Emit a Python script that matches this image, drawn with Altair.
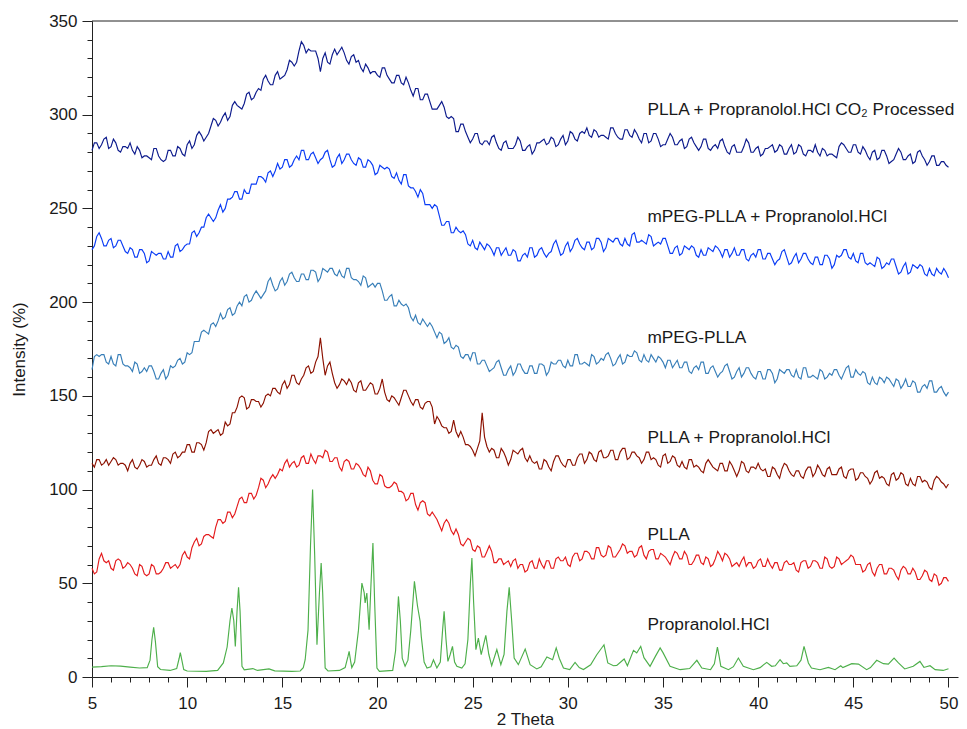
import altair as alt
import numpy as np
import pandas as pd

# ---------------- data ----------------
# amorphous patterns: main samples every 0.25 degree from 5 to 50 (2 Theta),
# plus the readings between them (at +0.125)
X_START = 5.0
X_END = 50.0

co2_processed = [
    281, 285, 284, 288, 283, 285, 280, 283, 285, 279, 281, 278, 277, 282, 278, 275,
    281, 278, 283, 279, 284, 282, 289, 289, 288, 294, 297, 296, 301, 299, 307, 304,
    306, 312, 309, 314, 319, 318, 316, 323, 320, 324, 328, 328, 339, 333, 334, 334,
    323, 333, 327, 335, 334, 333, 327, 332, 329, 323, 325, 323, 321, 325, 321, 317,
    321, 317, 320, 313, 314, 308, 311, 307, 303, 305, 304, 298, 298, 291, 295, 288,
    287, 290, 284, 286, 288, 285, 281, 286, 282, 284, 286, 281, 284, 281, 285, 287,
    285, 287, 284, 289, 286, 290, 286, 291, 293, 288, 291, 289, 288, 293, 290, 287,
    292, 289, 292, 287, 290, 285, 290, 287, 284, 287, 288, 284, 287, 283, 288, 283,
    283, 287, 281, 284, 286, 283, 279, 284, 280, 283, 285, 280, 283, 279, 282, 284,
    281, 283, 279, 284, 280, 283, 278, 281, 284, 278, 281, 279, 278, 283, 284, 280,
    284, 280, 283, 278, 280, 276, 281, 278, 275, 279, 280, 276, 279, 275, 281, 276,
    275, 278, 273, 275, 272,
]
co2_processed_mid = [
    285, 282, 287, 282, 287, 281, 283, 282, 281, 283, 277, 278, 276, 282, 276, 276,
    281, 278, 282, 278, 286, 284, 291, 286, 290, 298, 294, 299, 297, 305, 305, 303,
    311, 308, 312, 313, 321, 316, 321, 319, 321, 329, 326, 334, 337, 335, 334, 330,
    330, 328, 332, 332, 336, 329, 331, 328, 325, 327, 322, 323, 320, 325, 319, 317,
    321, 316, 317, 310, 314, 308, 311, 303, 303, 307, 299, 299, 291, 295, 291, 285,
    290, 285, 286, 284, 289, 282, 285, 282, 282, 288, 281, 283, 279, 285, 286, 284,
    288, 283, 287, 284, 291, 287, 290, 290, 289, 292, 288, 289, 287, 293, 288, 287,
    292, 288, 290, 285, 290, 286, 290, 283, 284, 290, 284, 286, 282, 287, 285, 281,
    287, 282, 283, 282, 287, 280, 283, 280, 280, 287, 280, 282, 278, 282, 283, 280,
    284, 279, 282, 279, 284, 279, 281, 280, 280, 282, 278, 279, 277, 285, 282, 280,
    284, 279, 281, 276, 281, 277, 281, 274, 276, 282, 276, 278, 274, 280, 278, 273,
    278, 273, 275, 273,
]

mpeg_plla_drug = [
    228, 235, 234, 230, 234, 230, 233, 227, 229, 224, 228, 226, 222, 226, 226, 223,
    227, 224, 231, 228, 231, 237, 235, 240, 245, 245, 245, 252, 250, 255, 259, 255,
    260, 258, 263, 267, 266, 269, 267, 274, 272, 276, 273, 278, 281, 276, 279, 277,
    276, 280, 276, 273, 279, 276, 279, 274, 277, 272, 276, 273, 269, 272, 272, 267,
    269, 263, 268, 261, 259, 260, 252, 252, 252, 246, 241, 243, 237, 238, 238, 231,
    233, 228, 230, 231, 228, 229, 225, 229, 225, 227, 222, 226, 229, 224, 228, 226,
    226, 231, 229, 226, 232, 229, 234, 229, 232, 228, 234, 232, 229, 233, 234, 231,
    234, 230, 237, 232, 232, 236, 230, 232, 234, 230, 226, 230, 226, 229, 230, 225,
    228, 225, 228, 230, 227, 228, 224, 229, 225, 228, 222, 226, 228, 223, 226, 223,
    222, 227, 224, 221, 226, 223, 226, 221, 224, 220, 225, 223, 220, 224, 228, 224,
    226, 221, 226, 220, 220, 224, 218, 221, 223, 219, 216, 221, 216, 219, 220, 215,
    218, 214, 216, 218, 213,
]
mpeg_plla_drug_mid = [
    230, 237, 230, 233, 229, 233, 230, 226, 228, 224, 228, 221, 227, 225, 226, 223,
    224, 230, 227, 230, 231, 238, 237, 240, 247, 243, 249, 248, 255, 256, 259, 255,
    258, 263, 263, 267, 264, 270, 270, 271, 276, 272, 276, 276, 281, 276, 280, 274,
    277, 281, 272, 277, 274, 279, 276, 273, 276, 272, 275, 268, 273, 271, 271, 266,
    265, 268, 262, 261, 256, 258, 252, 250, 251, 241, 243, 237, 240, 237, 236, 230,
    229, 232, 228, 230, 225, 229, 227, 225, 228, 222, 225, 224, 229, 225, 229, 224,
    227, 233, 225, 230, 227, 233, 231, 228, 232, 229, 234, 227, 234, 232, 234, 230,
    231, 236, 232, 233, 231, 235, 231, 231, 234, 226, 229, 225, 230, 228, 229, 224,
    225, 229, 227, 229, 224, 228, 226, 225, 228, 223, 225, 224, 228, 223, 226, 220,
    223, 228, 220, 224, 221, 226, 223, 220, 224, 220, 225, 218, 225, 225, 228, 223,
    222, 226, 221, 221, 219, 223, 219, 220, 223, 215, 219, 215, 220, 218, 219, 214,
    215, 218, 215, 216,
]

mpeg_plla = [
    164, 172, 172, 168, 171, 166, 172, 166, 165, 168, 162, 165, 166, 163, 159, 164,
    161, 165, 169, 167, 173, 173, 179, 184, 184, 188, 187, 194, 192, 197, 194, 200,
    203, 200, 204, 204, 204, 211, 209, 207, 213, 211, 216, 211, 215, 212, 217, 216,
    213, 217, 218, 215, 217, 213, 218, 212, 211, 214, 208, 210, 210, 206, 201, 204,
    198, 199, 199, 192, 193, 188, 189, 189, 184, 184, 178, 181, 175, 176, 170, 172,
    173, 167, 169, 166, 164, 168, 165, 161, 166, 163, 167, 162, 166, 162, 167, 166,
    163, 167, 169, 166, 169, 166, 172, 167, 167, 172, 167, 170, 172, 170, 167, 172,
    168, 171, 174, 169, 172, 168, 170, 171, 168, 169, 165, 169, 165, 168, 162, 166,
    168, 162, 165, 163, 162, 166, 163, 160, 165, 162, 165, 160, 163, 159, 164, 162,
    159, 163, 164, 161, 164, 159, 165, 160, 160, 164, 159, 162, 164, 161, 162, 166,
    160, 162, 163, 157, 160, 156, 159, 160, 157, 159, 154, 159, 155, 157, 152, 156,
    158, 152, 154, 152, 152,
]
mpeg_plla_mid = [
    171, 171, 172, 167, 167, 172, 167, 166, 163, 167, 163, 163, 166, 159, 162, 159,
    166, 166, 170, 168, 172, 179, 179, 185, 183, 189, 190, 191, 196, 193, 198, 198,
    204, 201, 206, 202, 206, 213, 206, 211, 209, 215, 213, 211, 215, 212, 217, 211,
    218, 216, 218, 214, 214, 218, 213, 212, 209, 213, 209, 208, 210, 201, 203, 198,
    201, 198, 197, 190, 189, 191, 187, 187, 181, 183, 179, 176, 177, 171, 172, 169,
    173, 167, 169, 163, 165, 169, 161, 164, 161, 167, 164, 162, 166, 162, 167, 161,
    168, 167, 169, 165, 166, 172, 167, 168, 166, 171, 168, 169, 173, 166, 170, 167,
    172, 171, 173, 168, 169, 172, 168, 170, 165, 169, 167, 165, 168, 163, 165, 164,
    168, 162, 166, 160, 163, 167, 159, 163, 160, 165, 162, 159, 163, 159, 164, 157,
    164, 162, 164, 160, 160, 165, 160, 161, 159, 163, 160, 161, 164, 159, 165, 160,
    164, 161, 162, 156, 157, 160, 157, 159, 155, 158, 156, 155, 158, 152, 155, 154,
    158, 152, 155, 150,
]

plla_drug = [
    114, 116, 113, 116, 115, 116, 114, 113, 114, 112, 113, 115, 113, 116, 114, 117,
    116, 119, 117, 120, 124, 120, 125, 124, 125, 132, 131, 129, 136, 135, 141, 149,
    149, 144, 148, 147, 146, 151, 154, 152, 156, 154, 161, 157, 159, 165, 162, 168,
    181, 161, 168, 157, 156, 158, 159, 153, 157, 153, 155, 156, 151, 159, 148, 150,
    147, 149, 153, 147, 148, 144, 146, 147, 135, 137, 133, 130, 137, 128, 128, 124,
    121, 122, 141, 123, 122, 117, 122, 117, 116, 120, 121, 117, 118, 114, 111, 116,
    112, 115, 118, 113, 116, 113, 117, 119, 116, 119, 115, 121, 117, 121, 116, 120,
    122, 117, 120, 117, 116, 120, 117, 113, 118, 114, 118, 113, 115, 111, 116, 113,
    110, 114, 114, 111, 114, 110, 115, 110, 110, 114, 109, 112, 114, 110, 107, 112,
    108, 111, 113, 108, 110, 107, 110, 112, 109, 111, 107, 112, 108, 111, 107, 110,
    111, 106, 109, 106, 105, 110, 107, 103, 108, 105, 109, 103, 106, 102, 107, 105,
    101, 105, 106, 103, 103,
]
plla_drug_mid = [
    112, 116, 114, 113, 117, 113, 114, 110, 116, 111, 116, 112, 113, 118, 113, 117,
    114, 120, 118, 120, 124, 120, 125, 121, 131, 130, 132, 130, 134, 141, 144, 150,
    143, 148, 147, 144, 150, 150, 154, 151, 158, 156, 161, 156, 161, 166, 163, 171,
    170, 166, 162, 154, 159, 156, 157, 152, 158, 153, 157, 151, 154, 152, 147, 149,
    145, 153, 150, 145, 148, 143, 147, 144, 139, 134, 133, 131, 131, 131, 124, 123,
    118, 126, 128, 120, 121, 117, 120, 113, 121, 119, 122, 115, 115, 115, 111, 115,
    110, 118, 115, 112, 116, 113, 119, 114, 120, 116, 120, 117, 118, 121, 116, 122,
    116, 120, 118, 114, 120, 116, 116, 112, 119, 115, 117, 112, 112, 116, 112, 112,
    109, 116, 112, 110, 114, 110, 113, 107, 115, 110, 112, 111, 111, 111, 107, 111,
    106, 114, 110, 107, 110, 106, 112, 107, 113, 108, 111, 108, 108, 112, 106, 111,
    105, 109, 107, 103, 109, 106, 106, 102, 109, 106, 108, 102, 103, 107, 104, 104,
    100, 107, 104, 101,
]

plla = [
    58, 56, 66, 61, 58, 62, 62, 59, 60, 55, 60, 55, 55, 59, 55, 58,
    61, 59, 58, 65, 64, 69, 74, 71, 76, 75, 80, 84, 83, 88, 87, 95,
    93, 98, 95, 101, 105, 103, 108, 108, 110, 116, 114, 112, 117, 114, 119, 114,
    118, 121, 115, 117, 112, 115, 115, 111, 113, 108, 112, 105, 103, 107, 101, 102,
    103, 99, 94, 98, 92, 93, 93, 86, 86, 81, 82, 82, 76, 76, 70, 74,
    68, 70, 64, 67, 67, 61, 63, 61, 59, 63, 60, 56, 61, 58, 63, 58,
    62, 58, 64, 62, 60, 64, 66, 63, 67, 63, 69, 65, 65, 69, 64, 68,
    70, 67, 64, 69, 65, 67, 68, 63, 65, 62, 64, 66, 63, 65, 60, 65,
    61, 64, 59, 63, 65, 66, 63, 60, 59, 64, 61, 58, 62, 59, 63, 58,
    61, 57, 62, 60, 57, 61, 62, 59, 62, 58, 64, 59, 59, 63, 61, 63,
    64, 60, 56, 60, 56, 58, 60, 55, 58, 54, 57, 58, 55, 56, 52, 57,
    52, 55, 49, 53, 51,
]
plla_mid = [
    55, 63, 62, 62, 57, 63, 58, 61, 58, 54, 59, 54, 60, 55, 56, 61,
    58, 60, 60, 67, 63, 72, 70, 75, 76, 74, 84, 82, 88, 85, 91, 96,
    93, 98, 97, 106, 101, 106, 106, 111, 114, 112, 115, 113, 118, 114, 116, 118,
    117, 120, 115, 117, 110, 116, 111, 114, 111, 107, 110, 103, 108, 102, 101, 104,
    99, 98, 95, 98, 89, 94, 87, 88, 84, 78, 84, 78, 79, 71, 72, 73,
    67, 69, 64, 70, 61, 63, 60, 62, 62, 58, 60, 57, 62, 58, 60, 62,
    58, 63, 62, 64, 59, 66, 62, 67, 66, 63, 69, 64, 70, 64, 66, 71,
    66, 67, 65, 70, 63, 68, 63, 66, 64, 60, 67, 63, 67, 60, 62, 65,
    60, 63, 60, 67, 62, 65, 59, 61, 62, 59, 61, 59, 63, 59, 60, 61,
    57, 61, 60, 61, 56, 62, 58, 62, 61, 58, 63, 58, 64, 60, 62, 65,
    60, 60, 57, 61, 54, 60, 55, 58, 57, 52, 59, 55, 58, 52, 54, 56,
    51, 54, 50, 53,
]

# crystalline drug pattern (peak positions and heights)
prop_x = [
    5.0, 5.5, 6.0, 6.5, 7.0, 7.5, 7.9, 8.05, 8.15, 8.24, 8.33, 8.45, 8.6, 9.1, 9.45,
    9.58, 9.64, 9.72, 9.82, 10.0, 11.0, 11.6, 11.9, 12.1, 12.25, 12.35, 12.45, 12.53,
    12.62, 12.7, 12.78, 12.88, 13.0, 13.45, 13.7, 14.3, 14.6, 15.5, 15.94, 16.1, 16.2,
    16.35, 16.48, 16.59, 16.7, 16.82, 16.95, 17.04, 17.12, 17.25, 17.4, 18.0, 18.3,
    18.45, 18.51, 18.58, 18.65, 18.8, 19.0, 19.18, 19.3, 19.35, 19.44, 19.56, 19.66,
    19.76, 19.85, 19.97, 20.1, 20.8, 20.95, 21.1, 21.2, 21.3, 21.45, 21.6, 21.75,
    21.94, 22.1, 22.24, 22.3, 22.45, 22.6, 22.8, 22.94, 23.12, 23.3, 23.42, 23.5,
    23.6, 23.7, 23.82, 23.94, 24.05, 24.17, 24.43, 24.6, 24.75, 24.88, 24.96, 25.05,
    25.17, 25.3, 25.45, 25.69, 25.85, 26.0, 26.27, 26.48, 26.65, 26.8, 26.92, 27.05,
    27.18, 27.4, 27.76, 28.02, 28.37, 28.6, 28.9, 29.2, 29.39, 29.55, 29.77, 30.1,
    30.38, 30.6, 30.82, 31.2, 31.52, 31.9, 32.1, 32.4, 32.57, 32.96, 33.13, 33.45,
    33.62, 33.83, 34.0, 34.32, 34.6, 34.85, 35.0, 35.37, 35.9, 36.4, 36.78, 37.04,
    37.5, 37.7, 37.86, 37.95, 38.04, 38.44, 38.7, 38.96, 39.22, 39.75, 40.1, 40.45,
    40.71, 40.9, 41.15, 41.32, 41.5, 41.67, 42.03, 42.25, 42.41, 42.64, 42.8, 43.25,
    43.69, 44.04, 44.34, 44.45, 44.92, 45.27, 45.7, 45.9, 46.23, 46.58, 46.84, 47.14,
    47.37, 47.7, 48.15, 48.5, 48.71, 49.03, 49.3, 49.72, 50.0,
]
prop_y = [
    5.3, 5.5, 6.0, 5.8, 5.3, 4.8, 5.0, 9, 20, 26.5, 19, 5.5, 4, 3.5, 4.5,
    10, 13, 9, 4, 3.2, 3.0, 3.5, 7.5, 16, 30, 36.8, 30, 16.3,
    35, 47.8, 35, 5.7, 3.8, 4.5, 3.5, 4.3, 3.3, 3.0, 3.2, 5, 9.2,
    25, 70, 100, 65, 17.2, 45, 60.8, 45, 4.8, 3.2, 3.5, 5,
    11, 13.7, 9, 5, 8, 25, 50.1, 45, 39.5, 44.8, 25.2, 50,
    71.5, 40, 4.8, 3, 3.5, 14, 43, 30, 10, 5.7, 9, 25,
    51, 38, 29.7, 21.7, 8, 4.8, 5.5, 9.2, 4.8, 8, 25, 35,
    20, 8.3, 12, 16.3, 8, 5.7, 4.8, 7, 20, 50, 63.5, 40,
    14.6, 20.8, 11.9, 22.2, 12, 6, 14.6, 6.6, 12, 35, 47.8, 30,
    10.1, 6.6, 14.9, 6.6, 4.3, 5.5, 10.7, 9.2, 15.5, 10, 4.8, 4,
    7.8, 5, 4, 6.5, 11.9, 17.2, 7.5, 6, 6.2, 9.6, 6, 14.2,
    12.8, 16.3, 10.3, 5.7, 11, 15.5, 13, 5.7, 3.9, 4.5, 8.9, 4.8,
    3.9, 7, 16, 11, 5.7, 3.9, 5.5, 10.1, 5.7, 3.9, 5, 7.8,
    5.7, 6, 9.2, 7.1, 7.5, 5.7, 6, 9, 16.3, 7.5, 4.8, 3.9,
    5.1, 3.9, 6, 5, 7.1, 6.9, 3.9, 5, 8.9, 7.1, 6.9, 10.1,
    7.5, 4.3, 5.7, 8.3, 5.1, 6, 3.9, 3.5, 4.4,
]

series_names = [
    "PLLA + Propranolol.HCl CO\u2082 Processed",
    "mPEG-PLLA + Propranolol.HCl",
    "mPEG-PLLA",
    "PLLA + Propranolol.HCl",
    "PLLA",
    "Propranolol.HCl",
]
series_colors = ["#0c1a8c", "#0a3cf5", "#377eb8", "#8c1100", "#e41a1c", "#4daf4a"]

# curve labels: left edge and baseline (data units)
label_x = [34.18, 34.18, 34.18, 34.18, 34.18, 34.18]
label_y = [299.9, 242.5, 178.1, 124.8, 73.2, 25.2]

x_ticks = list(range(5, 51))
y_ticks = list(range(0, 351, 10))

# ---------------- build tables ----------------
rows = []
amorphous = [
    (co2_processed, co2_processed_mid),
    (mpeg_plla_drug, mpeg_plla_drug_mid),
    (mpeg_plla, mpeg_plla_mid),
    (plla_drug, plla_drug_mid),
    (plla, plla_mid),
]
for name, (vals, mids) in zip(series_names[:5], amorphous):
    xs = np.linspace(X_START, X_END, len(vals))
    for i, yv in enumerate(vals):
        rows.append({"x": float(xs[i]), "y": yv, "s": name})
        if i < len(mids) and i + 1 < len(xs):
            rows.append({"x": float((xs[i] + xs[i + 1]) / 2), "y": mids[i], "s": name})
for xv, yv in zip(prop_x, prop_y):
    rows.append({"x": xv, "y": yv, "s": series_names[5]})
df = pd.DataFrame(rows)

lab = pd.DataFrame({"x": label_x, "y": label_y, "t": series_names})

W, H = 866, 656
FONT = "Liberation Sans"

xscale = alt.Scale(domain=[5, 50.5], nice=False, zero=False)
yscale = alt.Scale(domain=[0, 350], nice=False, zero=False)

xaxis = alt.Axis(
    values=x_ticks,
    tickSize={"condition": {"test": "datum.value % 5 === 0", "value": 10}, "value": 5},
    labelExpr="datum.value % 5 === 0 ? datum.label : ''",
    labelOverlap=False,
    labelFlush=False,
    labelPadding=8,
    grid=False,
    title="2 Theta",
    titlePadding=0,
)
yaxis = alt.Axis(
    values=y_ticks,
    tickSize={"condition": {"test": "datum.value % 50 === 0", "value": 10}, "value": 5},
    labelExpr="datum.value % 50 === 0 ? datum.label : ''",
    labelOverlap=False,
    labelFlush=False,
    labelPadding=5,
    grid=False,
    title="Intensity (%)",
    titlePadding=20,
)

lines = alt.Chart(df).mark_line(strokeWidth=1.15).encode(
    x=alt.X("x:Q", scale=xscale, axis=xaxis),
    y=alt.Y("y:Q", scale=yscale, axis=yaxis),
    color=alt.Color("s:N", scale=alt.Scale(domain=series_names, range=series_colors), legend=None),
    order=alt.Order("x:Q"),
)

texts = alt.Chart(lab).mark_text(
    align="left", baseline="alphabetic", fontSize=17.3, font=FONT, color="#1a1a1a"
).encode(
    x=alt.X("x:Q", scale=xscale, axis=xaxis),
    y=alt.Y("y:Q", scale=yscale, axis=yaxis),
    text="t:N",
)

top_line = alt.Chart(pd.DataFrame({"a": [0]})).mark_rule(color="#222222", strokeWidth=1).encode(
    x=alt.value(0), x2=alt.value(W), y=alt.value(0)
)

chart = (
    alt.layer(lines, texts, top_line)
    .properties(width=W, height=H, padding={"left": 2, "top": 4, "right": 0, "bottom": 0})
    .configure_view(stroke=None)
    .configure_axis(
        labelFont=FONT,
        titleFont=FONT,
        labelFontSize=17,
        titleFontSize=17,
        titleFontWeight="normal",
        labelColor="#1a1a1a",
        titleColor="#1a1a1a",
        domainColor="#222222",
        tickColor="#222222",
        domainWidth=1,
        tickWidth=1,
    )
)

chart.save("out.html", embed_options={"renderer": "svg", "actions": False})
